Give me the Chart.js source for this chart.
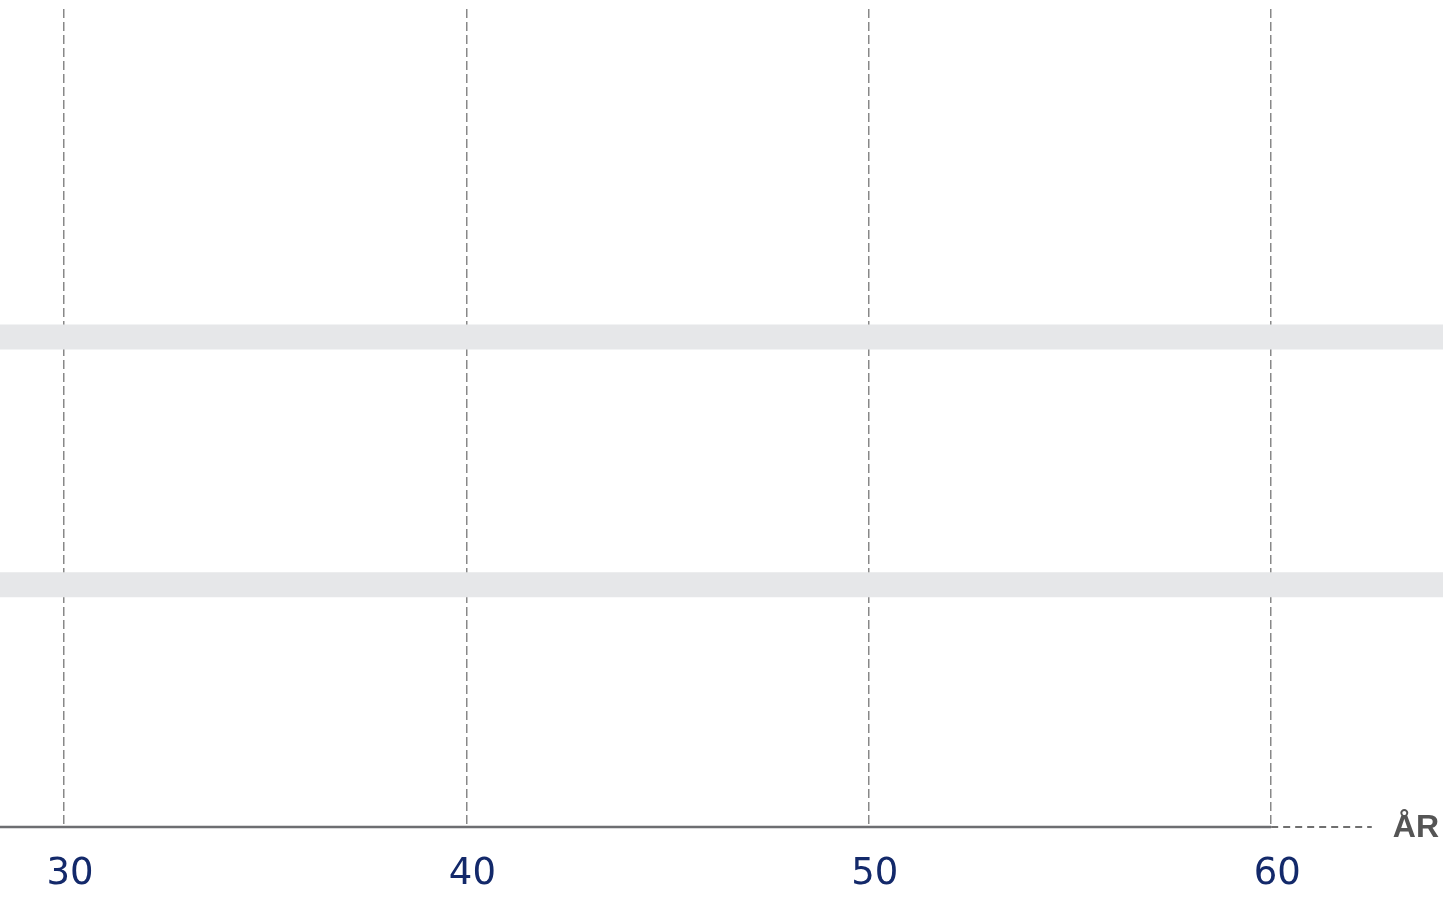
<!DOCTYPE html>
<html>
<head>
<meta charset="utf-8">
<script src="https://cdn.jsdelivr.net/npm/chart.js@4.4.1/dist/chart.umd.min.js"></script>
<style>
html,body{margin:0;padding:0;background:#fff;}
#wrap{width:1443px;height:899px;position:relative;}
</style>
</head>
<body>
<div id="wrap"><canvas id="c"></canvas></div>
<script>
// Data
const xTicks = [30, 40, 50, 60];
const xRange = [28.41, 64.27];
const bandLevels = [59.9, 29.6];
const axisSolid = [28.41, 60];
const axisDashed = [60, 62.5];
const axisTitle = "ÅR";

const bandDatasets = bandLevels.map(v => ({
  type: 'line',
  data: [{x: xRange[0], y: v}, {x: xRange[1], y: v}],
  borderColor: '#e6e7e9',
  borderWidth: 25,
  pointRadius: 0,
  borderCapStyle: 'butt',
  clip: false,
  order: 3
}));

const axisTitlePlugin = {
  id: 'axisTitle',
  afterDatasetsDraw(chart) {
    const {ctx, scales} = chart;
    const x = scales.x.getPixelForValue(axisDashed[1]) + 21;
    const y = scales.y.getPixelForValue(0) + 1;
    ctx.save();
    ctx.font = 'bold 32px "Liberation Sans", Arial, sans-serif';
    ctx.fillStyle = '#555555';
    ctx.textBaseline = 'middle';
    ctx.textAlign = 'left';
    ctx.fillText(axisTitle, x, y);
    ctx.restore();
  }
};

new Chart(document.getElementById('c'), {
  type: 'scatter',
  data: {
    datasets: [
      ...bandDatasets,
      {
        type: 'line',
        data: axisSolid.map(x => ({x, y: 0})),
        borderColor: '#6d6e71',
        borderWidth: 2.5,
        pointRadius: 0,
        clip: false,
        order: 1
      },
      {
        type: 'line',
        data: axisDashed.map(x => ({x, y: 0})),
        borderColor: '#6f6f6f',
        borderWidth: 2,
        borderDash: [7, 5],
        pointRadius: 0,
        clip: false,
        order: 1
      }
    ]
  },
  options: {
    responsive: true,
    maintainAspectRatio: false,
    animation: false,
    layout: {padding: {top: 9, left: 0, right: 0, bottom: 0}},
    plugins: {legend: {display: false}, tooltip: {enabled: false}},
    scales: {
      x: {
        type: 'linear',
        min: xRange[0],
        max: xRange[1],
        afterBuildTicks(scale) { scale.ticks = xTicks.map(v => ({value: v})); },
        afterFit(scale) { scale.height = 72; },
        grid: {
          color: '#888888',
          lineWidth: 1.5,
          drawTicks: false
        },
        border: {display: false, dash: [9, 4]},
        ticks: {
          color: '#13296a',
          font: {family: '"DejaVu Sans", "Open Sans", sans-serif', size: 37},
          padding: 25,
          labelOffset: 6,
          maxRotation: 0,
          autoSkip: false
        }
      },
      y: {
        display: false,
        min: 0,
        max: 100
      }
    }
  },
  plugins: [axisTitlePlugin]
});
</script>
</body>
</html>
